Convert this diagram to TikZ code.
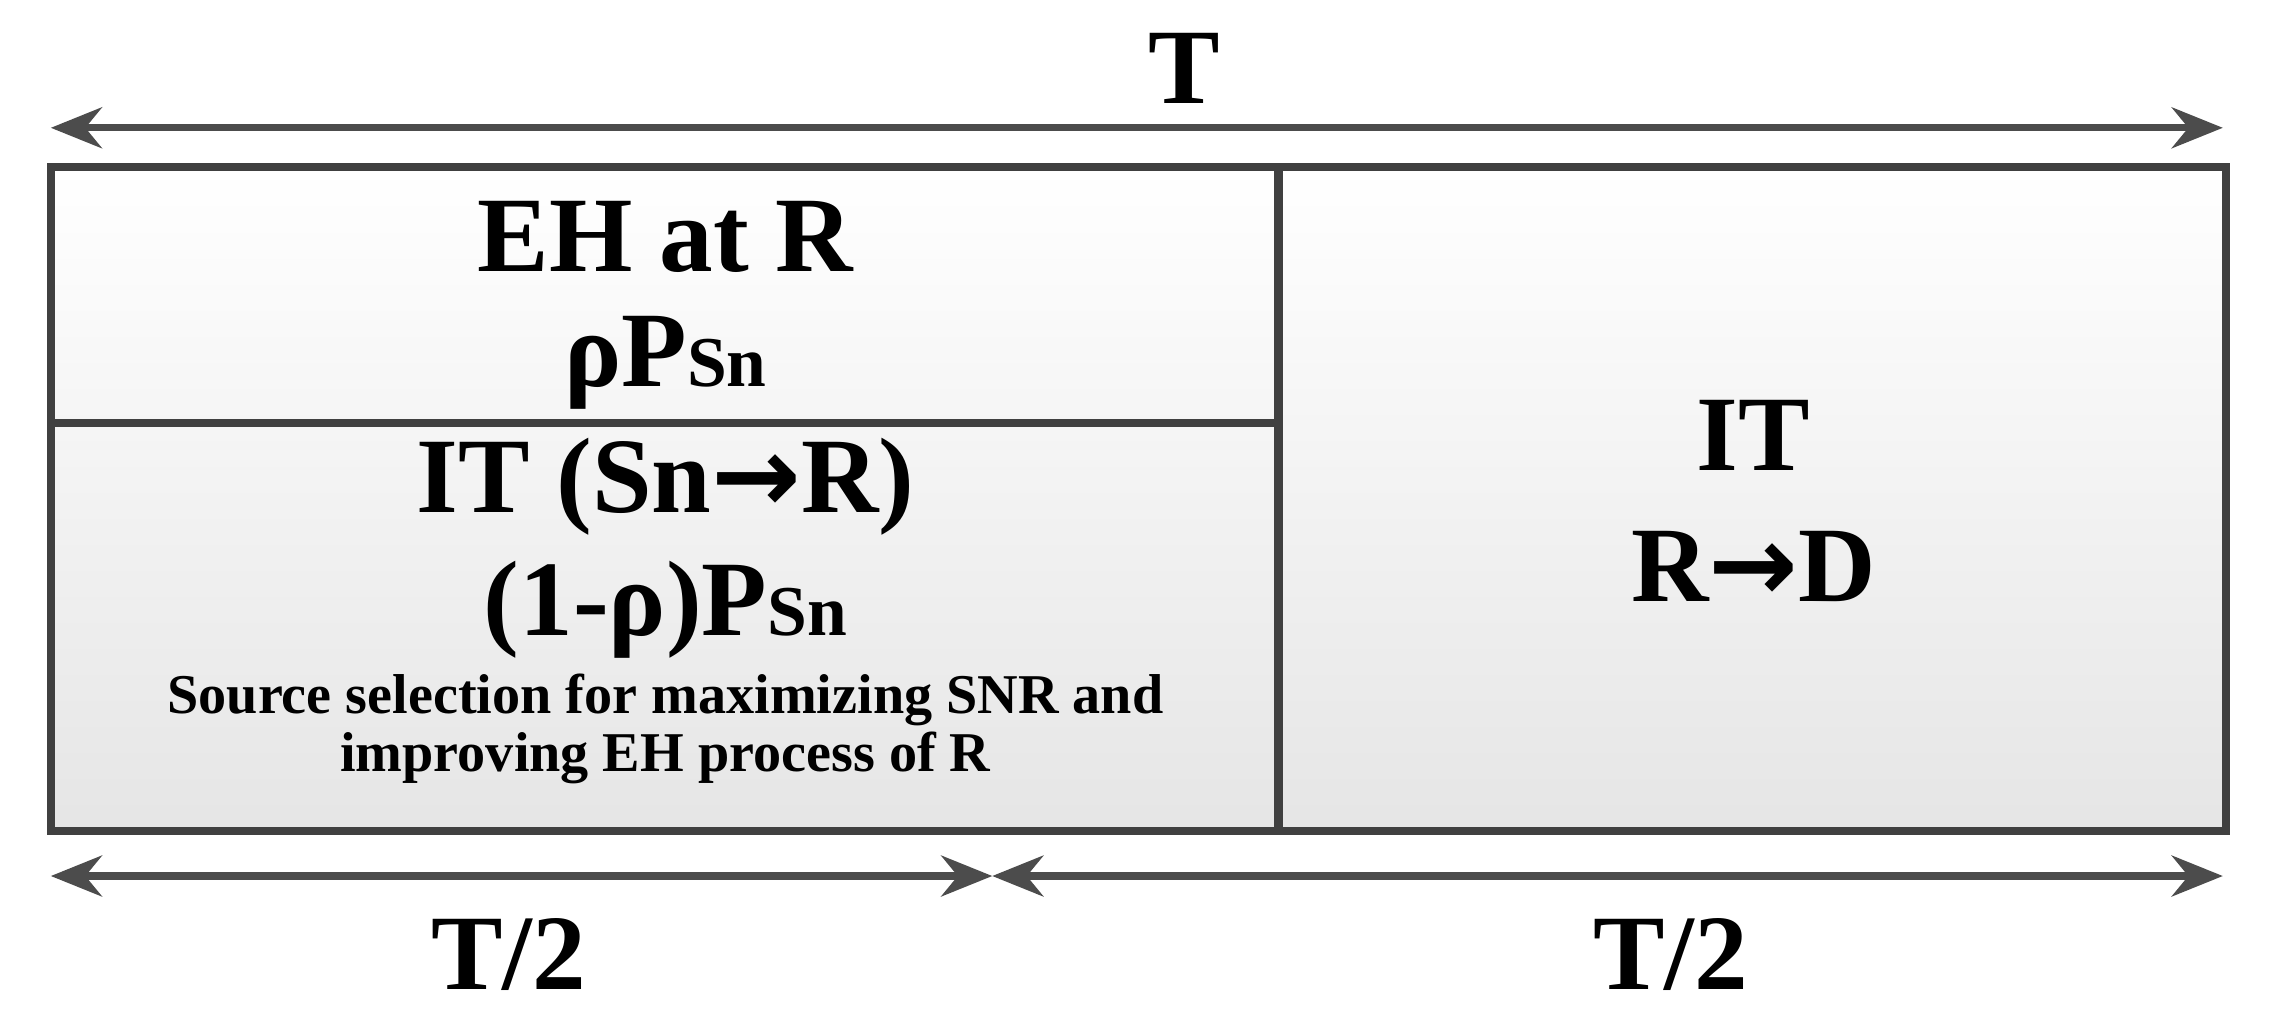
\documentclass[tikz,border=0pt]{standalone}
\usepackage{fontspec}
\setmainfont{Liberation Serif}
\newfontfamily\arrowfont{DejaVu Sans}
\newcommand{\thickto}{{\arrowfont\bfseries →}}
\usetikzlibrary{arrows.meta}
\tikzset{
  frame/.style={draw=black!75, line width=1.6pt, top color=white, bottom color=black!10},
  span/.style={draw=black!70, line width=1.4pt, {Stealth[length=10pt,width=8pt]}-{Stealth[length=10pt,width=8pt]}},
  big/.style={font=\fontsize{21}{24}\selectfont\bfseries},
  small/.style={font=\fontsize{11}{14}\selectfont\bfseries}
}
\begin{document}
\begin{tikzpicture}
    \useasboundingbox (0,0) rectangle (15.68,6.97);
    % boxes
    \draw[frame] (0.35,1.25) rectangle (8.80,5.82);
    \draw[frame] (8.80,1.25) rectangle (15.32,5.82);
    \draw[black!75, line width=1.6pt] (0.35,4.06) -- (8.80,4.06);
    % time spans
    \coordinate (tl) at (0.35,6.09);
    \coordinate (tr) at (15.30,6.09);
    \coordinate (bl) at (0.35,0.94);
    \coordinate (bm) at (6.83,0.94);
    \coordinate (br) at (15.30,0.94);
    \draw[span] (tl) -- (tr);
    \draw[span] (bl) -- (bm);
    \draw[span] (bm) -- (br);
    \node[big] (tall) at (8.15,6.50) {T};
    \node[big] (thalfa) at (3.50,0.40) {T/2};
    \node[big] (thalfb) at (11.50,0.40) {T/2};
    % left slot
    \node[big] (eh) at (4.58,5.34) {EH at R};
    \node[big] (ehp) at (4.58,4.47) {ρP{\fontsize{14}{17}\selectfont Sn}};
    \node[big] (it) at (4.58,3.62) {IT (Sn\thickto R)};
    \node[big] (itp) at (4.58,2.77) {(1-ρ)P{\fontsize{14}{17}\selectfont Sn}};
    \node[small] (sel) at (4.58,2.15) {Source selection for maximizing SNR and};
    \node[small] (selb) at (4.58,1.75) {improving EH process of R};
    % right slot
    \node[big] (itr) at (12.07,3.97) {IT};
    \node[big] (rd) at (12.07,3.07) {R\thickto D};
\end{tikzpicture}
\end{document}
